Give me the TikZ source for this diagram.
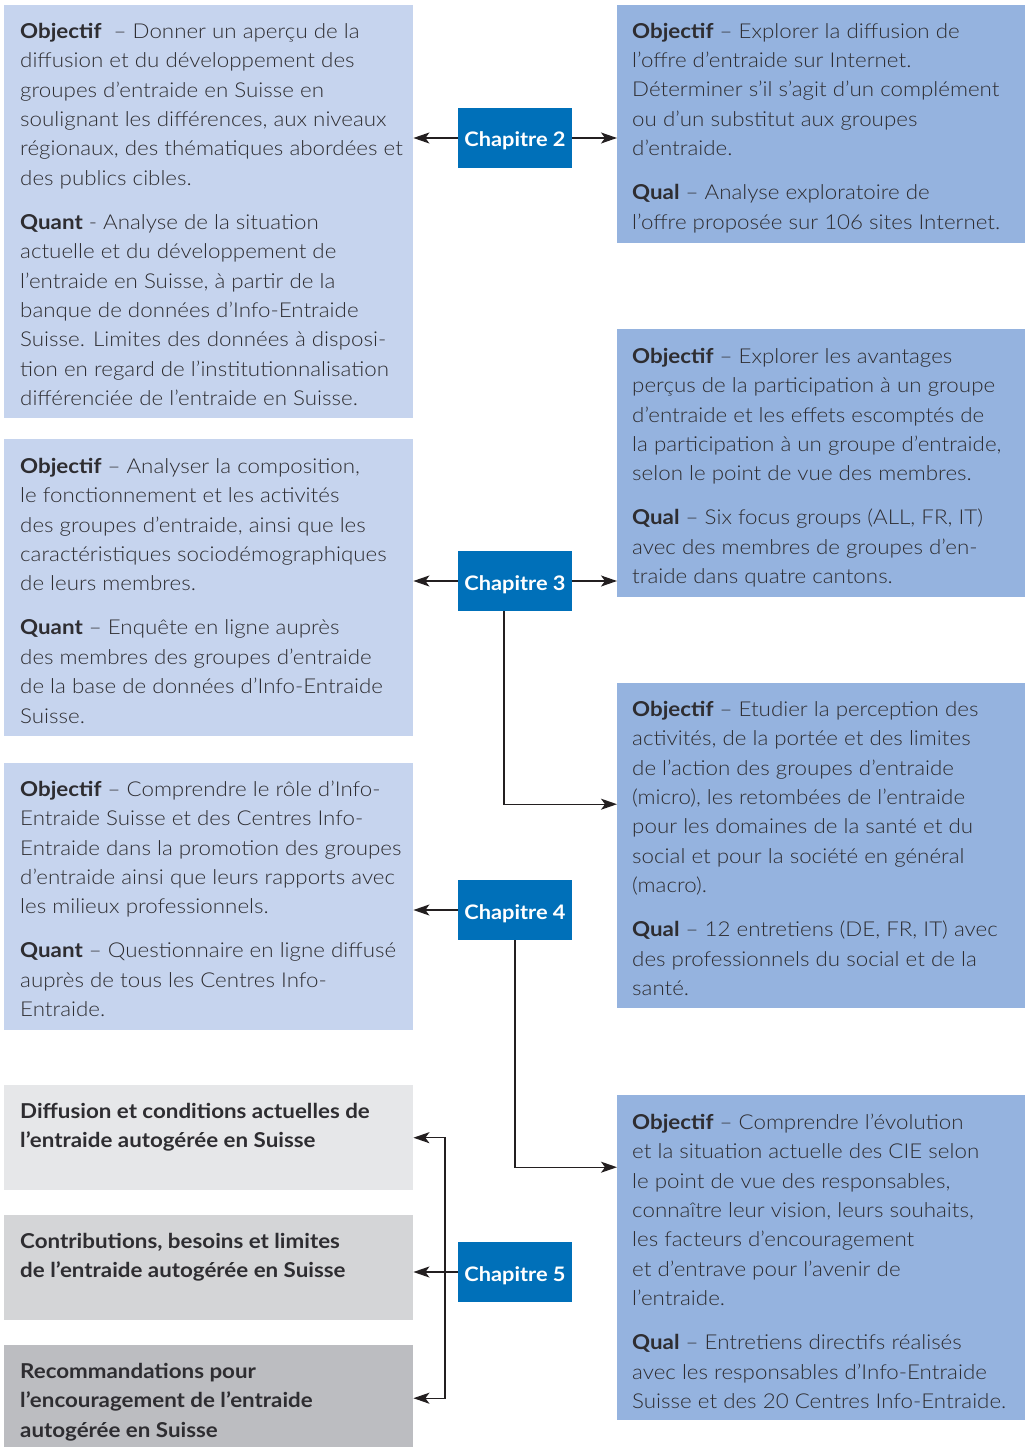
\documentclass[tikz,border=0pt]{standalone}
\usepackage{fontspec}
\IfFontExistsTF{Lato Light}{\setmainfont{Lato Light}[BoldFont={Lato Bold},FakeStretch=1.09]}{\setmainfont{Lato}[FakeStretch=1.09]}
\usetikzlibrary{arrows.meta,calc}
\definecolor{lblue}{HTML}{C6D4EE}
\definecolor{rblue}{HTML}{95B3DF}
\definecolor{chap}{HTML}{0070B9}
\definecolor{gA}{HTML}{E6E7E9}
\definecolor{gB}{HTML}{D4D5D7}
\definecolor{gC}{HTML}{BCBDC1}
\definecolor{tcol}{HTML}{2E2D31}
\definecolor{lcol}{HTML}{231F20}
\newcommand{\fst}{\rule{0pt}{20pt}}
\begin{document}
\begin{tikzpicture}[x=1pt,y=-1pt,
  boxx/.style={draw=none, inner sep=0pt, anchor=north west, minimum width=409pt},
  txt/.style={anchor=north west, inner sep=0pt, align=left, text=tcol, font=\fontsize{20.5}{29.4}\selectfont},
  btxt/.style={txt, font=\fontsize{20.5}{29.4}\selectfont\bfseries},
  chapbox/.style={fill=chap, text=white, inner sep=0pt, minimum width=114pt, minimum height=60pt, text height=18pt, text depth=0pt, font=\fontsize{20}{24}\selectfont\bfseries},
  arr/.style={draw=lcol, line width=1.4pt, -{Stealth[length=16pt,width=11pt,inset=4pt]}},
  ln/.style={draw=lcol, line width=1.4pt}]
\useasboundingbox (0,0) rectangle (1025,1447);
% boxes
\node[boxx, fill=lblue, minimum height=413pt] (L1) at (4,5) {};
\node[boxx, fill=rblue, minimum height=238pt, minimum width=408pt] (R1) at (617,5) {};
\node[boxx, fill=lblue, minimum height=297pt] (L2) at (4,439) {};
\node[boxx, fill=rblue, minimum height=268pt, minimum width=408pt] (R2) at (617,329) {};
\node[boxx, fill=rblue, minimum height=325pt, minimum width=408pt] (R3) at (617,683) {};
\node[boxx, fill=lblue, minimum height=267pt] (L3) at (4,763) {};
\node[boxx, fill=rblue, minimum height=325pt, minimum width=408pt] (R4) at (617,1095) {};
\node[boxx, fill=gA, minimum height=105pt] (G1) at (4,1085) {};
\node[boxx, fill=gB, minimum height=105pt] (G2) at (4,1215) {};
\node[boxx, fill=gC, minimum height=102pt] (G3) at (4,1345) {};
% chapters
\node[chapbox] (ch2) at (515,138) {Chapitre 2};
\node[chapbox] (ch3) at (515,581) {Chapitre 3};
\node[chapbox] (ch4) at (515,910) {Chapitre 4};
\node[chapbox] (ch5) at (515,1272) {Chapitre 5};
% texts
\node[txt] (tL1) at (20,18) {\fst\textbf{Objectif}\ \ – Donner un aperçu de la\\
diffusion et du développement des\\
groupes d’entraide en Suisse en\\
soulignant les différences, aux niveaux\\
régionaux, des thématiques abordées et\\
des publics cibles.\\[14.6pt]
\textbf{Quant} - Analyse de la situation\\
actuelle et du développement de\\
l’entraide en Suisse, à partir de la\\
banque de données d’Info-Entraide\\
Suisse. Limites des données à disposi-\\
tion en regard de l’institutionnalisation\\
différenciée de l’entraide en Suisse.};
\node[txt] (tR1) at (632,18) {\fst\textbf{Objectif} – Explorer la diffusion de\\
l’offre d’entraide sur Internet.\\
Déterminer s’il s’agit d’un complément\\
ou d’un substitut aux groupes\\
d’entraide.\\[14.6pt]
\textbf{Qual} – Analyse exploratoire de\\
l’offre proposée sur 106 sites Internet.};
\node[txt] (tL2) at (20,453) {\fst\textbf{Objectif} – Analyser la composition,\\
le fonctionnement et les activités\\
des groupes d’entraide, ainsi que les\\
caractéristiques sociodémographiques\\
de leurs membres.\\[14.6pt]
\textbf{Quant} – Enquête en ligne auprès\\
des membres des groupes d’entraide\\
de la base de données d’Info-Entraide\\
Suisse.};
\node[txt] (tR2) at (632,343) {\fst\textbf{Objectif} – Explorer les avantages\\
perçus de la participation à un groupe\\
d’entraide et les effets escomptés de\\
la participation à un groupe d’entraide,\\
selon le point de vue des membres.\\[14.6pt]
\textbf{Qual} – Six focus groups (ALL, FR, IT)\\
avec des membres de groupes d’en-\\
traide dans quatre cantons.};
\node[txt] (tR3) at (632,696) {\fst\textbf{Objectif} – Etudier la perception des\\
activités, de la portée et des limites\\
de l’action des groupes d’entraide\\
(micro), les retombées de l’entraide\\
pour les domaines de la santé et du\\
social et pour la société en général\\
(macro).\\[14.6pt]
\textbf{Qual} – 12 entretiens (DE, FR, IT) avec\\
des professionnels du social et de la\\
santé.};
\node[txt] (tL3) at (20,776) {\fst\textbf{Objectif} – Comprendre le rôle d’Info-\\
Entraide Suisse et des Centres Info-\\
Entraide dans la promotion des groupes\\
d’entraide ainsi que leurs rapports avec\\
les milieux professionnels.\\[14.6pt]
\textbf{Quant} – Questionnaire en ligne diffusé\\
auprès de tous les Centres Info-\\
Entraide.};
\node[txt] (tR4) at (632,1109) {\fst\textbf{Objectif} – Comprendre l’évolution\\
et la situation actuelle des CIE selon\\
le point de vue des responsables,\\
connaître leur vision, leurs souhaits,\\
les facteurs d’encouragement\\
et d’entrave pour l’avenir de\\
l’entraide.\\[14.6pt]
\textbf{Qual} – Entretiens directifs réalisés\\
avec les responsables d’Info-Entraide\\
Suisse et des 20 Centres Info-Entraide.};
\node[btxt] (tG1) at (20,1098) {\fst Diffusion et conditions actuelles de\\
l’entraide autogérée en Suisse};
\node[btxt] (tG2) at (20,1228) {\fst Contributions, besoins et limites\\
de l’entraide autogérée en Suisse};
\node[btxt] (tG3) at (20,1358) {\fst Recommandations pour\\
l’encouragement de l’entraide\\
autogérée en Suisse};
% connectors
\draw[arr] (ch2.west) -- (ch2.west -| L1.east);
\draw[arr] (ch2.east) -- (ch2.east -| R1.west);
\draw[arr] (ch3.west) -- (ch3.west -| L2.east);
\draw[arr] (ch3.east) -- (ch3.east -| R2.west);
\draw[arr] ([xshift=-11pt]ch3.south) |- ([yshift=41.5pt]R3.west);
\draw[arr] (ch4.west) -- (ch4.west -| L3.east);
\draw[arr] (ch4.south) |- ([yshift=90.5pt]R4.west);
\coordinate (j5) at ([xshift=-13pt]ch5.west);
\draw[arr] (ch5.west) -- (ch5.west -| G2.east);
\draw[arr] (j5) |- (G1.east);
\draw[arr] (j5) |- ([yshift=-2pt]G3.east);
\end{tikzpicture}
\end{document}
